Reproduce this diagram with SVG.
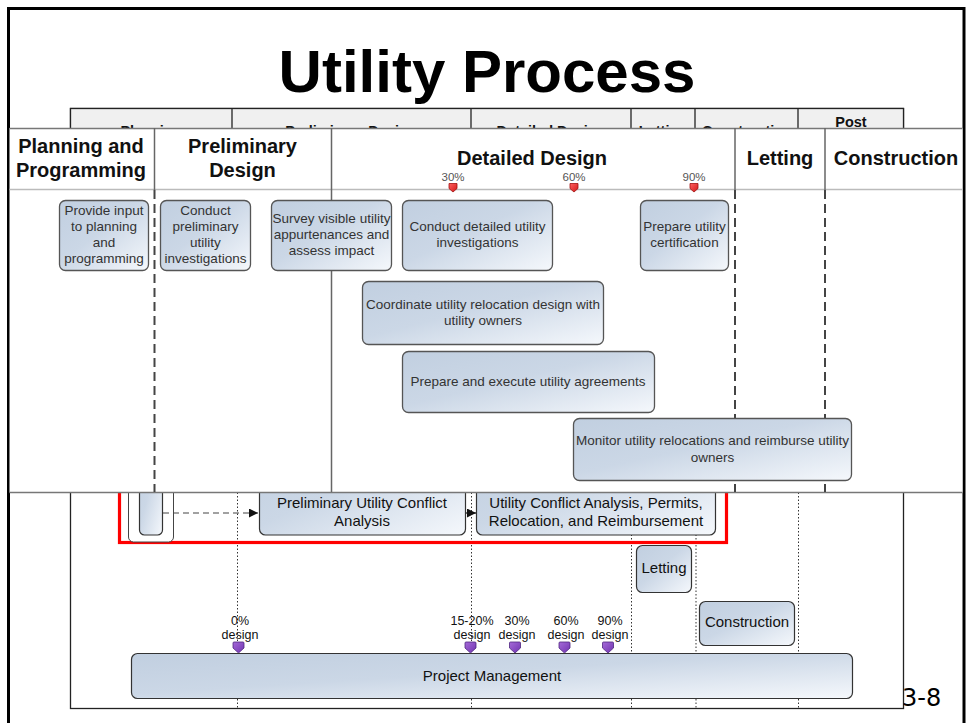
<svg xmlns="http://www.w3.org/2000/svg" width="967" height="723" viewBox="0 0 967 723">
  <style>
    .title { font-family: "Liberation Sans", Arial, sans-serif; font-weight: bold; font-size: 60px; fill: #000; }
    .hdr { font-family: "Liberation Sans", Arial, sans-serif; font-weight: bold; font-size: 20px; fill: #111; }
    .hdr2 { font-family: "Liberation Sans", Arial, sans-serif; font-weight: bold; font-size: 14.5px; fill: #111; }
    .pct { font-family: "Liberation Sans", Arial, sans-serif; font-size: 11.5px; fill: #555; }
    .ntxt { font-family: "Liberation Sans", Arial, sans-serif; font-size: 13.5px; fill: #333; }
    .btxt { font-family: "Liberation Sans", Arial, sans-serif; font-size: 15px; fill: #111; }
    .mtxt { font-family: "Liberation Sans", Arial, sans-serif; font-size: 12.5px; fill: #111; }
    .page { font-family: "DejaVu Sans", Verdana, sans-serif; font-size: 24px; fill: #000; }
    .node { fill: url(#nodeFill); stroke: #555; stroke-width: 1.3; }
    .bnode { fill: url(#nodeFill); stroke: #333; stroke-width: 1.2; }
    .dot { stroke: #333; stroke-width: 1; stroke-dasharray: 1.5 2; fill: none; }
    .phase-dash { stroke: #444; stroke-width: 2; stroke-dasharray: 9 5; fill: none; }
    .phase-solid { stroke: #666; stroke-width: 1.5; fill: none; }
    .redpin { fill: url(#redFill); stroke: #a01010; stroke-width: 0.8; }
    .purpin { fill: url(#purFill); stroke: #4e2680; stroke-width: 0.8; }
  </style>
  <defs>
    <linearGradient id="nodeFill" x1="0" y1="0" x2="1" y2="1">
      <stop offset="0" stop-color="#c1cfe0"/>
      <stop offset="0.45" stop-color="#cbd7e6"/>
      <stop offset="1" stop-color="#f5f8fc"/>
    </linearGradient>
    <linearGradient id="redFill" x1="0" y1="0" x2="1" y2="1">
      <stop offset="0" stop-color="#ff6060"/>
      <stop offset="1" stop-color="#d01818"/>
    </linearGradient>
    <linearGradient id="purFill" x1="0" y1="0" x2="1" y2="1">
      <stop offset="0" stop-color="#a56ad8"/>
      <stop offset="1" stop-color="#7034b0"/>
    </linearGradient>
    <marker id="arrow" viewBox="0 0 10 10" refX="10" refY="5" markerWidth="9" markerHeight="9" markerUnits="userSpaceOnUse" orient="auto">
      <path d="M0,0 L10,5 L0,10 z" fill="#111"/>
    </marker>
  </defs>

  <rect width="967" height="723" fill="#fff"/>

  <!-- Slide frame and title -->
  <rect x="8.5" y="8.5" width="955.5" height="740" fill="none" stroke="#000" stroke-width="3"/>
  <text class="title" x="487" y="92" text-anchor="middle">Utility Process</text>

  <!-- Lower phase chart -->
  <g id="phase-chart">
    <rect x="70.5" y="108.5" width="833" height="600" fill="#fff" stroke="#222" stroke-width="1.3"/>
    <rect x="70.5" y="108.5" width="833" height="45" fill="#f0f0f0" stroke="#222" stroke-width="1.3"/>
    <g stroke="#222" stroke-width="1.3">
      <line x1="232" y1="108" x2="232" y2="153"/>
      <line x1="471" y1="108" x2="471" y2="153"/>
      <line x1="631" y1="108" x2="631" y2="153"/>
      <line x1="695" y1="108" x2="695" y2="153"/>
      <line x1="798" y1="108" x2="798" y2="153"/>
    </g>
    <text class="hdr2" x="151" y="136" text-anchor="middle">Planning</text>
    <text class="hdr2" x="351" y="136" text-anchor="middle">Preliminary Design</text>
    <text class="hdr2" x="551" y="136" text-anchor="middle">Detailed Design</text>
    <text class="hdr2" x="663" y="136" text-anchor="middle">Letting</text>
    <text class="hdr2" x="747" y="136" text-anchor="middle">Construction</text>
    <text class="hdr2" x="851" y="127" text-anchor="middle">Post</text>
    <text class="hdr2" x="851" y="144" text-anchor="middle">Construction</text>
    <!-- phase boundaries -->
    <line class="dot" x1="237.5" y1="153" x2="237.5" y2="708"/>
    <line class="dot" x1="471.5" y1="153" x2="471.5" y2="708"/>
    <line class="dot" x1="631.5" y1="153" x2="631.5" y2="708"/>
    <line class="dot" x1="696" y1="153" x2="696" y2="708"/>
    <line class="dot" x1="798.5" y1="153" x2="798.5" y2="708"/>
  </g>

  <!-- Highlighted utility work -->
  <rect x="119.5" y="440" width="607" height="102.5" fill="none" stroke="#ff0000" stroke-width="3.2"/>

  <g id="utility-container">
    <rect x="128.5" y="440" width="45" height="102" rx="5" fill="#fff" stroke="#444" stroke-width="1"/>
    <rect x="139.5" y="450" width="23" height="85" rx="5" class="bnode"/>
  </g>

  <g id="prelim-conflict">
    <rect x="259.5" y="440" width="206" height="95" rx="6" class="bnode"/>
    <text class="btxt" x="362" y="508" text-anchor="middle">Preliminary Utility Conflict</text>
    <text class="btxt" x="362" y="526" text-anchor="middle">Analysis</text>
  </g>

  <g id="conflict-permits">
    <rect x="476.5" y="440" width="239" height="95" rx="6" class="bnode"/>
    <text class="btxt" x="596" y="508" text-anchor="middle">Utility Conflict Analysis, Permits,</text>
    <text class="btxt" x="596" y="526" text-anchor="middle">Relocation, and Reimbursement</text>
  </g>

  <g id="connectors">
    <line x1="163" y1="513" x2="258" y2="513" stroke="#444" stroke-width="1.2" stroke-dasharray="6 4" marker-end="url(#arrow)"/>
    <line x1="466" y1="513" x2="476" y2="513" stroke="#111" stroke-width="1.2" marker-end="url(#arrow)"/>
  </g>

  <!-- Upper overlay: utility activities by phase -->
  <g id="overlay">
    <rect x="9.5" y="128" width="953" height="364.5" fill="#fff"/>
    <line x1="9.5" y1="128.5" x2="962.5" y2="128.5" stroke="#777" stroke-width="1.5"/>
    <line x1="9.5" y1="492.5" x2="962.5" y2="492.5" stroke="#777" stroke-width="1.5"/>
    <line x1="9.5" y1="189.5" x2="962.5" y2="189.5" stroke="#bbb" stroke-width="1.5"/>
    <g class="phase-solid">
      <line x1="154.5" y1="128" x2="154.5" y2="190"/>
      <line x1="331.5" y1="128" x2="331.5" y2="492"/>
      <line x1="735" y1="128" x2="735" y2="190"/>
      <line x1="825" y1="128" x2="825" y2="190"/>
    </g>
    <line class="phase-dash" x1="154.5" y1="190" x2="154.5" y2="492"/>
    <line class="phase-dash" x1="735" y1="190" x2="735" y2="492"/>
    <line class="phase-dash" x1="825" y1="190" x2="825" y2="492"/>

    <text class="hdr" x="81" y="153" text-anchor="middle">Planning and</text>
    <text class="hdr" x="81" y="177" text-anchor="middle">Programming</text>
    <text class="hdr" x="242.5" y="153" text-anchor="middle">Preliminary</text>
    <text class="hdr" x="242.5" y="177" text-anchor="middle">Design</text>
    <text class="hdr" x="532" y="165" text-anchor="middle">Detailed Design</text>
    <text class="hdr" x="780" y="165" text-anchor="middle">Letting</text>
    <text class="hdr" x="896" y="165" text-anchor="middle">Construction</text>

    <!-- design milestones -->
    <text class="pct" x="453" y="181" text-anchor="middle">30%</text>
    <text class="pct" x="574" y="181" text-anchor="middle">60%</text>
    <text class="pct" x="694" y="181" text-anchor="middle">90%</text>
    <path class="redpin" d="M449,183.5 h8 v5 l-4,3.5 l-4,-3.5 z"/>
    <path class="redpin" d="M570,183.5 h8 v5 l-4,3.5 l-4,-3.5 z"/>
    <path class="redpin" d="M690,183.5 h8 v5 l-4,3.5 l-4,-3.5 z"/>
  </g>

  <g id="provide-input">
    <rect x="59.5" y="200.5" width="89" height="70" rx="6" class="node"/>
    <text class="ntxt" x="104" y="214.5" text-anchor="middle">Provide input</text>
    <text class="ntxt" x="104" y="230.5" text-anchor="middle">to planning</text>
    <text class="ntxt" x="104" y="246.5" text-anchor="middle">and</text>
    <text class="ntxt" x="104" y="262.5" text-anchor="middle">programming</text>
  </g>

  <g id="prelim-investigations">
    <rect x="160.5" y="200.5" width="90" height="70" rx="6" class="node"/>
    <text class="ntxt" x="205.5" y="214.5" text-anchor="middle">Conduct</text>
    <text class="ntxt" x="205.5" y="230.5" text-anchor="middle">preliminary</text>
    <text class="ntxt" x="205.5" y="246.5" text-anchor="middle">utility</text>
    <text class="ntxt" x="205.5" y="262.5" text-anchor="middle">investigations</text>
  </g>

  <g id="survey-utility">
    <rect x="271.5" y="200.5" width="120" height="70" rx="6" class="node"/>
    <text class="ntxt" x="331.5" y="222.5" text-anchor="middle">Survey visible utility</text>
    <text class="ntxt" x="331.5" y="238.5" text-anchor="middle">appurtenances and</text>
    <text class="ntxt" x="331.5" y="254.5" text-anchor="middle">assess impact</text>
  </g>

  <g id="detailed-investigations">
    <rect x="402.5" y="200.5" width="150" height="70" rx="6" class="node"/>
    <text class="ntxt" x="477.5" y="230.5" text-anchor="middle">Conduct detailed utility</text>
    <text class="ntxt" x="477.5" y="246.5" text-anchor="middle">investigations</text>
  </g>

  <g id="certification">
    <rect x="640.5" y="200.5" width="88" height="70" rx="6" class="node"/>
    <text class="ntxt" x="684.5" y="230.5" text-anchor="middle">Prepare utility</text>
    <text class="ntxt" x="684.5" y="246.5" text-anchor="middle">certification</text>
  </g>

  <g id="coordinate-design">
    <rect x="362.5" y="281.5" width="241" height="63" rx="6" class="node"/>
    <text class="ntxt" x="483" y="308.5" text-anchor="middle">Coordinate utility relocation design with</text>
    <text class="ntxt" x="483" y="324.5" text-anchor="middle">utility owners</text>
  </g>

  <g id="agreements">
    <rect x="402.5" y="351.5" width="252" height="61" rx="6" class="node"/>
    <text class="ntxt" x="528" y="385.5" text-anchor="middle">Prepare and execute utility agreements</text>
  </g>

  <g id="monitor-relocations">
    <rect x="573.5" y="418.5" width="278" height="62" rx="6" class="node"/>
    <text class="ntxt" x="712.5" y="444.5" text-anchor="middle">Monitor utility relocations and reimburse utility</text>
    <text class="ntxt" x="712.5" y="461.5" text-anchor="middle">owners</text>
  </g>

  <!-- Lower chart: later phases -->
  <g id="letting">
    <rect x="636.5" y="545.5" width="55" height="47" rx="6" class="bnode"/>
    <text class="btxt" x="664" y="573" text-anchor="middle">Letting</text>
  </g>

  <g id="construction">
    <rect x="699.5" y="601.5" width="95" height="44" rx="6" class="bnode"/>
    <text class="btxt" x="747" y="627" text-anchor="middle">Construction</text>
  </g>

  <g id="milestones">
    <text class="mtxt" x="240" y="625" text-anchor="middle">0%</text>
    <text class="mtxt" x="240" y="639" text-anchor="middle">design</text>
    <text class="mtxt" x="472" y="625" text-anchor="middle">15-20%</text>
    <text class="mtxt" x="472" y="639" text-anchor="middle">design</text>
    <text class="mtxt" x="517" y="625" text-anchor="middle">30%</text>
    <text class="mtxt" x="517" y="639" text-anchor="middle">design</text>
    <text class="mtxt" x="566" y="625" text-anchor="middle">60%</text>
    <text class="mtxt" x="566" y="639" text-anchor="middle">design</text>
    <text class="mtxt" x="610" y="625" text-anchor="middle">90%</text>
    <text class="mtxt" x="610" y="639" text-anchor="middle">design</text>
    <path class="purpin" d="M233,643 q0,-1 1,-1 h9 q1,0 1,1 v5 l-5.5,5 l-5.5,-5 z"/>
    <path class="purpin" d="M465,643 q0,-1 1,-1 h9 q1,0 1,1 v5 l-5.5,5 l-5.5,-5 z"/>
    <path class="purpin" d="M509.5,643 q0,-1 1,-1 h9 q1,0 1,1 v5 l-5.5,5 l-5.5,-5 z"/>
    <path class="purpin" d="M559,643 q0,-1 1,-1 h9 q1,0 1,1 v5 l-5.5,5 l-5.5,-5 z"/>
    <path class="purpin" d="M602.5,643 q0,-1 1,-1 h9 q1,0 1,1 v5 l-5.5,5 l-5.5,-5 z"/>
  </g>

  <g id="project-management">
    <rect x="131.5" y="653.5" width="721" height="45" rx="6" class="bnode"/>
    <text class="btxt" x="492" y="681" text-anchor="middle">Project Management</text>
  </g>

  <text class="page" x="902" y="706">3-8</text>
</svg>
